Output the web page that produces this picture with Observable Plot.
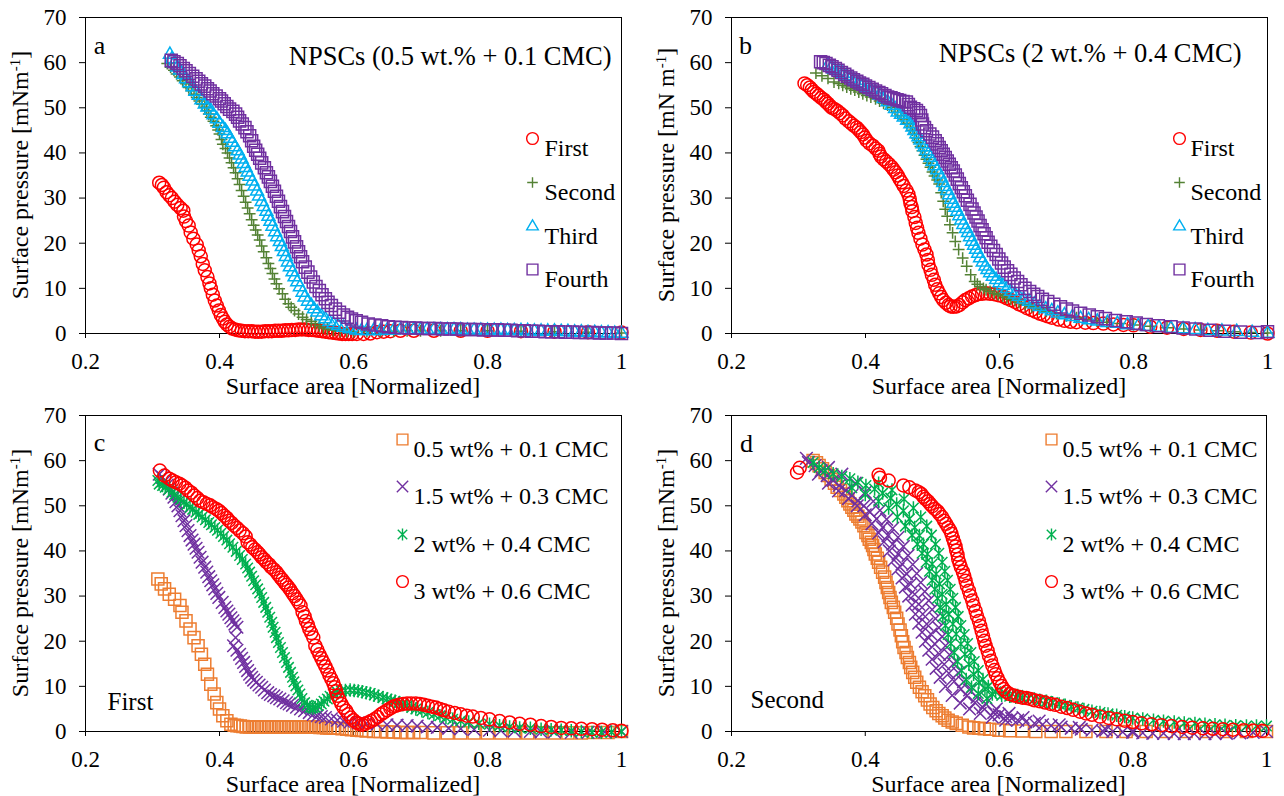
<!DOCTYPE html>
<html><head><meta charset="utf-8">
<script src="https://cdn.jsdelivr.net/npm/d3@7"></script>
<script src="https://cdn.jsdelivr.net/npm/@observablehq/plot@0.6"></script>
<style>
body{margin:0;background:#fff;}
#grid{display:grid;grid-template-columns:642px 642px;width:1284px;}
svg{display:block;}
</style></head>
<body><div id="grid"></div>
<script>
// ---------- axis ticks ----------
const xTickValues = [0.2, 0.4, 0.6, 0.8, 1];
const xTickLabels = ["0.2", "0.4", "0.6", "0.8", "1"];
const yTickValues = [0, 10, 20, 30, 40, 50, 60, 70];
const yTickLabels = ["0", "10", "20", "30", "40", "50", "60", "70"];

// ---------- panel a: NPSCs (0.5 wt.% + 0.1 CMC) ----------
const aFirst = [[0.310,33.4],[0.314,32.9],[0.317,32.3],[0.321,31.3],[0.325,30.6],[0.329,30.0],[0.333,29.2],[0.337,28.5],[0.342,27.8],[0.346,27.2],[0.347,25.9],[0.350,24.9],[0.354,23.9],[0.357,22.4],[0.361,21.0],[0.366,19.7],[0.369,18.4],[0.372,17.1],[0.375,15.4],[0.378,14.0],[0.382,12.5],[0.385,11.1],[0.387,10.0],[0.390,8.6],[0.393,7.3],[0.396,6.2],[0.399,5.1],[0.402,4.1],[0.405,3.3],[0.408,2.6],[0.411,2.0],[0.415,1.5],[0.419,1.1],[0.423,0.9],[0.428,0.7],[0.433,0.6],[0.438,0.5],[0.443,0.5],[0.448,0.5],[0.453,0.4],[0.458,0.4],[0.463,0.4],[0.468,0.5],[0.473,0.5],[0.478,0.5],[0.483,0.6],[0.488,0.6],[0.493,0.6],[0.498,0.7],[0.503,0.7],[0.508,0.8],[0.513,0.8],[0.518,0.9],[0.523,0.9],[0.528,0.9],[0.533,0.8],[0.538,0.8],[0.543,0.7],[0.548,0.6],[0.553,0.5],[0.558,0.4],[0.563,0.3],[0.568,0.2],[0.573,0.1],[0.578,0.0],[0.583,-0.1],[0.588,-0.1],[0.593,-0.1],[0.598,-0.1],[0.605,-0.1],[0.615,-0.1],[0.625,0.0],[0.635,0.3],[0.645,0.4],[0.655,0.5],[0.670,0.6],[0.690,0.6],[0.720,0.6],[0.760,0.6],[0.800,0.6],[0.850,0.5],[0.900,0.4],[0.950,0.3],[1.000,0.2]];
const aSecond = [[0.322,59.8],[0.327,59.0],[0.332,58.3],[0.336,57.5],[0.341,56.8],[0.345,56.0],[0.350,55.3],[0.354,54.5],[0.358,53.8],[0.362,53.0],[0.366,52.3],[0.370,51.5],[0.374,50.8],[0.378,50.1],[0.381,49.4],[0.384,48.6],[0.387,47.9],[0.391,47.0],[0.395,46.0],[0.398,45.1],[0.400,44.2],[0.403,43.0],[0.405,41.9],[0.409,41.0],[0.412,40.0],[0.415,38.9],[0.418,37.8],[0.421,36.7],[0.424,35.6],[0.427,34.3],[0.430,33.0],[0.433,31.7],[0.436,30.4],[0.439,29.1],[0.442,27.8],[0.445,26.5],[0.448,25.2],[0.451,24.0],[0.454,22.9],[0.457,21.8],[0.460,20.7],[0.463,19.4],[0.466,18.1],[0.470,16.8],[0.473,15.5],[0.476,14.4],[0.479,13.3],[0.482,12.1],[0.485,11.0],[0.489,9.9],[0.494,8.8],[0.498,7.6],[0.503,6.6],[0.507,5.8],[0.512,5.1],[0.518,4.3],[0.524,3.6],[0.530,3.1],[0.537,2.7],[0.543,2.2],[0.549,1.7],[0.555,1.3],[0.561,1.0],[0.570,0.7],[0.580,0.5],[0.590,0.4],[0.600,0.4],[0.620,0.4],[0.640,0.5],[0.660,0.5],[0.680,0.6],[0.700,0.6],[0.730,0.6],[0.760,0.6],[0.800,0.6],[0.850,0.5],[0.900,0.4],[0.950,0.3],[1.000,0.1]];
const aThird = [[0.326,61.8],[0.329,60.8],[0.332,59.8],[0.337,59.0],[0.341,58.3],[0.346,57.3],[0.350,56.4],[0.355,55.5],[0.360,54.6],[0.364,53.6],[0.369,52.7],[0.373,51.7],[0.378,50.8],[0.382,50.1],[0.387,49.4],[0.391,48.4],[0.396,47.5],[0.400,46.5],[0.405,45.6],[0.409,44.9],[0.412,44.2],[0.416,43.2],[0.419,42.3],[0.423,41.3],[0.427,40.4],[0.430,39.5],[0.433,38.6],[0.436,37.6],[0.439,36.7],[0.442,35.7],[0.445,34.8],[0.449,33.7],[0.452,32.6],[0.456,31.5],[0.459,30.4],[0.463,29.2],[0.466,28.1],[0.470,27.0],[0.473,25.9],[0.476,24.8],[0.479,23.7],[0.483,22.5],[0.486,21.4],[0.490,20.3],[0.493,19.2],[0.496,18.1],[0.499,17.0],[0.502,15.8],[0.505,14.7],[0.509,13.6],[0.512,12.5],[0.516,11.4],[0.520,10.3],[0.524,9.1],[0.527,8.0],[0.532,7.1],[0.537,6.2],[0.541,5.4],[0.546,4.7],[0.552,3.9],[0.558,3.2],[0.564,2.6],[0.570,2.1],[0.577,1.7],[0.585,1.3],[0.594,1.0],[0.604,0.7],[0.612,0.6],[0.620,0.6],[0.630,0.6],[0.640,0.6],[0.650,0.7],[0.660,0.7],[0.670,0.8],[0.680,0.8],[0.690,0.8],[0.700,0.8],[0.710,0.8],[0.720,0.8],[0.730,0.8],[0.740,0.8],[0.750,0.8],[0.760,0.8],[0.770,0.7],[0.780,0.7],[0.790,0.7],[0.800,0.7],[0.810,0.7],[0.820,0.7],[0.830,0.6],[0.840,0.6],[0.850,0.6],[0.860,0.6],[0.870,0.5],[0.880,0.5],[0.890,0.5],[0.900,0.5],[0.910,0.4],[0.920,0.4],[0.930,0.3],[0.940,0.3],[0.950,0.2],[0.960,0.2],[0.970,0.1],[0.980,0.1],[0.990,0.0],[1.000,0.0]];
const aFourth = [[0.328,60.5],[0.332,60.2],[0.337,59.8],[0.341,59.3],[0.346,58.7],[0.350,58.2],[0.355,57.6],[0.360,57.0],[0.365,56.4],[0.369,55.9],[0.373,55.3],[0.378,54.8],[0.382,54.2],[0.386,53.7],[0.390,53.1],[0.395,52.6],[0.400,52.0],[0.403,51.5],[0.407,50.9],[0.411,50.3],[0.415,49.7],[0.420,49.2],[0.424,48.6],[0.427,47.9],[0.430,47.1],[0.434,46.4],[0.438,45.6],[0.441,44.7],[0.445,43.8],[0.448,42.7],[0.451,41.5],[0.454,40.6],[0.457,39.7],[0.460,38.8],[0.463,37.8],[0.467,36.7],[0.470,35.6],[0.473,34.7],[0.476,33.7],[0.479,32.6],[0.482,31.5],[0.485,30.4],[0.488,29.3],[0.491,28.1],[0.494,27.0],[0.497,25.9],[0.500,24.8],[0.503,23.7],[0.506,22.6],[0.509,21.4],[0.512,20.3],[0.515,19.2],[0.518,18.1],[0.521,17.0],[0.524,15.9],[0.528,14.7],[0.532,13.6],[0.536,12.5],[0.540,11.4],[0.544,10.4],[0.549,9.5],[0.553,8.6],[0.558,7.7],[0.562,6.9],[0.567,6.2],[0.573,5.4],[0.579,4.7],[0.585,4.1],[0.591,3.6],[0.597,3.2],[0.604,2.8],[0.612,2.5],[0.622,2.1],[0.632,1.9],[0.642,1.7],[0.652,1.5],[0.662,1.4],[0.672,1.3],[0.683,1.2],[0.693,1.2],[0.703,1.1],[0.713,1.1],[0.723,1.1],[0.733,1.0],[0.744,1.0],[0.754,1.0],[0.764,0.9],[0.774,0.9],[0.784,0.9],[0.794,0.8],[0.805,0.8],[0.815,0.8],[0.825,0.7],[0.835,0.7],[0.845,0.6],[0.855,0.6],[0.866,0.5],[0.876,0.5],[0.886,0.4],[0.896,0.4],[0.906,0.4],[0.916,0.3],[0.927,0.3],[0.937,0.2],[0.947,0.2],[0.957,0.2],[0.967,0.1],[0.977,0.1],[0.988,0.1],[1.000,0.0]];

// ---------- panel b: NPSCs (2 wt.% + 0.4 CMC) ----------
const bFirst = [[0.309,55.4],[0.313,55.0],[0.317,54.5],[0.320,54.0],[0.323,53.5],[0.327,53.1],[0.330,52.7],[0.334,52.2],[0.338,51.8],[0.341,51.3],[0.344,50.9],[0.347,50.4],[0.350,50.0],[0.354,49.7],[0.358,49.3],[0.362,48.8],[0.366,48.3],[0.370,47.6],[0.375,47.0],[0.379,46.5],[0.383,46.0],[0.387,45.6],[0.390,45.1],[0.393,44.6],[0.396,44.1],[0.399,43.4],[0.402,42.7],[0.406,42.1],[0.411,41.6],[0.415,41.0],[0.419,40.5],[0.421,39.8],[0.423,39.2],[0.427,38.6],[0.431,38.1],[0.435,37.5],[0.439,36.9],[0.442,36.3],[0.445,35.7],[0.448,35.0],[0.451,34.2],[0.454,33.5],[0.457,32.7],[0.461,31.7],[0.464,30.8],[0.466,29.8],[0.467,28.9],[0.469,28.0],[0.470,27.1],[0.473,25.8],[0.475,24.5],[0.477,23.4],[0.479,22.3],[0.482,21.0],[0.485,19.7],[0.488,18.6],[0.491,17.5],[0.493,16.3],[0.494,15.2],[0.497,14.1],[0.499,13.0],[0.502,11.9],[0.504,10.8],[0.507,9.8],[0.510,8.9],[0.513,8.1],[0.516,7.4],[0.520,6.8],[0.524,6.3],[0.527,6.0],[0.531,5.9],[0.536,6.0],[0.540,6.3],[0.545,6.9],[0.549,7.4],[0.554,7.8],[0.559,8.2],[0.564,8.5],[0.568,8.7],[0.574,8.8],[0.580,8.9],[0.586,8.8],[0.592,8.7],[0.598,8.5],[0.605,8.2],[0.611,7.8],[0.617,7.4],[0.623,7.0],[0.629,6.5],[0.635,6.1],[0.641,5.6],[0.648,5.2],[0.654,4.8],[0.660,4.4],[0.666,4.1],[0.672,3.8],[0.678,3.5],[0.688,3.1],[0.697,2.8],[0.706,2.6],[0.715,2.5],[0.728,2.4],[0.740,2.3],[0.755,2.2],[0.770,2.0],[0.785,1.9],[0.800,1.8],[0.825,1.5],[0.850,1.3],[0.875,1.0],[0.900,0.8],[0.925,0.6],[0.950,0.4],[0.975,0.2],[1.000,0.0]];
const bSecond = [[0.326,57.7],[0.335,57.1],[0.344,56.5],[0.353,55.7],[0.360,55.4],[0.366,55.0],[0.372,54.6],[0.378,54.2],[0.384,53.9],[0.390,53.5],[0.396,53.1],[0.402,52.7],[0.408,52.4],[0.415,52.0],[0.421,51.5],[0.427,51.0],[0.433,50.6],[0.439,50.1],[0.444,49.6],[0.448,49.0],[0.453,48.3],[0.457,47.5],[0.462,46.6],[0.467,45.7],[0.470,45.0],[0.473,44.2],[0.476,43.3],[0.479,42.3],[0.482,41.4],[0.485,40.5],[0.488,39.5],[0.491,38.6],[0.494,37.7],[0.497,36.8],[0.500,35.8],[0.503,34.9],[0.507,34.0],[0.510,33.1],[0.513,31.2],[0.516,29.3],[0.519,27.5],[0.522,26.0],[0.526,24.1],[0.530,22.3],[0.534,20.4],[0.539,18.6],[0.545,16.7],[0.551,14.9],[0.557,13.0],[0.563,11.5],[0.567,10.9],[0.571,10.4],[0.576,10.0],[0.580,9.7],[0.586,9.3],[0.592,8.9],[0.598,8.6],[0.605,8.3],[0.611,7.9],[0.617,7.6],[0.623,7.3],[0.629,6.9],[0.638,6.4],[0.648,5.9],[0.659,5.4],[0.670,4.9],[0.685,4.4],[0.700,3.9],[0.715,3.5],[0.730,3.1],[0.745,2.8],[0.760,2.5],[0.780,2.2],[0.800,1.9],[0.825,1.6],[0.850,1.3],[0.875,1.0],[0.900,0.8],[0.925,0.6],[0.950,0.4],[0.975,0.2],[1.000,0.1]];
const bThird = [[0.344,59.4],[0.349,59.0],[0.353,58.5],[0.360,58.1],[0.366,57.6],[0.372,57.1],[0.378,56.5],[0.384,56.0],[0.390,55.5],[0.396,55.0],[0.402,54.5],[0.408,54.0],[0.415,53.5],[0.421,52.8],[0.427,52.0],[0.433,51.3],[0.439,50.5],[0.444,49.8],[0.448,49.0],[0.453,48.5],[0.457,47.9],[0.462,47.2],[0.467,46.4],[0.470,45.7],[0.473,44.9],[0.476,44.2],[0.479,43.5],[0.482,42.8],[0.485,42.0],[0.488,41.3],[0.491,40.5],[0.494,39.8],[0.497,39.0],[0.500,38.1],[0.503,37.1],[0.507,36.2],[0.510,35.3],[0.513,34.4],[0.516,33.4],[0.519,32.5],[0.522,31.6],[0.525,30.7],[0.528,29.7],[0.531,28.8],[0.534,27.9],[0.537,27.0],[0.540,26.0],[0.543,25.1],[0.546,24.1],[0.550,23.2],[0.553,22.3],[0.556,21.4],[0.559,20.4],[0.562,19.5],[0.565,18.6],[0.568,17.7],[0.571,16.7],[0.575,15.8],[0.579,14.9],[0.582,14.1],[0.586,13.4],[0.590,12.6],[0.595,11.9],[0.600,11.2],[0.605,10.6],[0.611,9.9],[0.617,9.3],[0.623,8.7],[0.629,8.2],[0.636,7.6],[0.644,7.1],[0.652,6.5],[0.660,5.9],[0.669,5.4],[0.678,5.0],[0.687,4.5],[0.697,4.1],[0.709,3.7],[0.721,3.3],[0.733,3.0],[0.746,2.7],[0.761,2.4],[0.776,2.2],[0.791,1.9],[0.807,1.7],[0.822,1.5],[0.838,1.3],[0.856,1.1],[0.874,1.0],[0.892,0.8],[0.911,0.6],[0.932,0.5],[0.954,0.4],[0.977,0.2],[1.000,0.0]];
const bFourth = [[0.333,60.2],[0.337,60.0],[0.341,59.8],[0.346,59.4],[0.350,59.1],[0.355,58.7],[0.359,58.3],[0.364,57.8],[0.369,57.4],[0.373,57.0],[0.378,56.6],[0.382,56.2],[0.387,55.9],[0.391,55.5],[0.396,55.2],[0.400,54.8],[0.405,54.5],[0.410,54.1],[0.415,53.7],[0.420,53.4],[0.424,53.1],[0.429,52.7],[0.433,52.4],[0.438,52.2],[0.442,52.0],[0.447,51.8],[0.451,51.6],[0.456,51.4],[0.461,51.3],[0.464,50.7],[0.467,50.1],[0.472,49.8],[0.476,49.4],[0.479,48.9],[0.482,48.3],[0.484,47.3],[0.485,46.4],[0.488,45.6],[0.491,44.9],[0.496,44.2],[0.500,43.5],[0.504,42.7],[0.507,42.0],[0.510,41.2],[0.513,40.5],[0.516,39.7],[0.519,39.0],[0.522,38.2],[0.525,37.5],[0.528,36.7],[0.531,36.0],[0.534,35.1],[0.537,34.2],[0.540,33.2],[0.543,32.3],[0.546,31.4],[0.549,30.5],[0.552,29.5],[0.556,28.6],[0.559,27.6],[0.562,26.7],[0.565,25.8],[0.568,24.9],[0.571,23.9],[0.574,23.0],[0.577,22.1],[0.580,21.2],[0.583,20.2],[0.587,19.3],[0.591,18.4],[0.595,17.5],[0.599,16.5],[0.603,15.6],[0.607,14.7],[0.612,13.9],[0.617,13.1],[0.622,12.3],[0.627,11.5],[0.632,10.8],[0.638,10.0],[0.645,9.3],[0.651,8.7],[0.657,8.2],[0.664,7.6],[0.672,7.1],[0.681,6.5],[0.691,5.9],[0.700,5.4],[0.709,5.0],[0.721,4.5],[0.734,4.1],[0.746,3.7],[0.758,3.3],[0.773,2.9],[0.789,2.6],[0.804,2.3],[0.819,2.0],[0.837,1.7],[0.856,1.5],[0.874,1.2],[0.893,1.0],[0.914,0.7],[0.936,0.5],[0.960,0.3],[0.985,0.2],[1.000,0.4]];

// ---------- panel c: First compression ----------
const c05 = [[0.308,33.8],[0.313,32.7],[0.318,31.6],[0.325,30.4],[0.333,29.3],[0.341,27.9],[0.344,26.4],[0.350,24.5],[0.356,22.7],[0.362,20.8],[0.368,19.0],[0.373,17.1],[0.378,14.9],[0.382,12.7],[0.387,10.5],[0.392,8.3],[0.396,6.4],[0.400,5.0],[0.405,3.5],[0.411,2.4],[0.417,1.6],[0.422,1.4],[0.426,1.3],[0.431,1.2],[0.435,1.1],[0.440,1.0],[0.445,1.0],[0.450,1.0],[0.455,1.0],[0.460,1.0],[0.465,1.0],[0.470,1.0],[0.475,1.0],[0.480,1.0],[0.485,1.0],[0.490,1.0],[0.495,1.0],[0.500,1.0],[0.505,1.0],[0.510,1.0],[0.515,1.0],[0.520,1.0],[0.525,1.0],[0.530,1.0],[0.535,1.0],[0.540,1.0],[0.545,1.0],[0.550,0.9],[0.555,0.9],[0.560,0.8],[0.565,0.8],[0.570,0.7],[0.576,0.7],[0.583,0.6],[0.590,0.5],[0.597,0.4],[0.605,0.3],[0.612,0.2],[0.619,0.1],[0.630,0.0],[0.640,0.0],[0.650,-0.1],[0.660,-0.1],[0.670,-0.2],[0.680,-0.2],[0.690,-0.2],[0.700,-0.2],[0.720,-0.3],[0.740,-0.3],[0.760,-0.3],[0.780,-0.3],[0.800,-0.3],[0.820,-0.3],[0.840,-0.3],[0.860,-0.3],[0.880,-0.3],[0.900,-0.3],[0.920,-0.3],[0.940,-0.3],[0.960,-0.2],[0.980,-0.2],[1.000,0.0]];
const c15 = [[0.310,57.0],[0.315,56.3],[0.319,55.6],[0.322,54.6],[0.325,53.7],[0.329,52.8],[0.332,51.9],[0.335,50.9],[0.338,50.0],[0.341,48.9],[0.344,47.8],[0.347,46.7],[0.350,45.6],[0.353,44.5],[0.356,43.4],[0.359,42.4],[0.362,41.5],[0.365,40.6],[0.368,39.7],[0.371,38.6],[0.374,37.5],[0.378,36.4],[0.381,35.3],[0.384,34.3],[0.387,33.4],[0.390,32.5],[0.393,31.6],[0.396,30.6],[0.399,29.7],[0.404,28.6],[0.408,27.5],[0.411,26.7],[0.414,26.0],[0.417,25.2],[0.420,24.5],[0.423,23.8],[0.426,23.1],[0.424,20.8],[0.421,19.0],[0.426,18.0],[0.430,17.1],[0.433,16.2],[0.436,15.3],[0.439,14.4],[0.442,13.5],[0.445,12.7],[0.448,12.0],[0.451,11.4],[0.455,10.9],[0.459,10.3],[0.463,9.8],[0.467,9.2],[0.472,8.6],[0.476,8.2],[0.481,7.9],[0.485,7.5],[0.490,7.2],[0.495,6.8],[0.500,6.4],[0.504,6.1],[0.509,5.8],[0.515,5.4],[0.521,5.0],[0.527,4.6],[0.534,4.2],[0.540,3.8],[0.546,3.5],[0.552,3.3],[0.558,3.1],[0.567,2.8],[0.576,2.5],[0.585,2.3],[0.595,2.1],[0.607,1.9],[0.619,1.8],[0.635,1.6],[0.650,1.5],[0.665,1.4],[0.680,1.3],[0.695,1.2],[0.710,1.0],[0.725,0.9],[0.742,0.7],[0.760,0.6],[0.780,0.45],[0.803,0.3],[0.820,0.2],[0.840,0.1],[0.864,0.0],[0.880,-0.1],[0.900,-0.1],[0.925,-0.2],[0.950,-0.2],[0.975,-0.1],[1.000,0.0]];
const c20 = [[0.308,55.6],[0.310,54.8],[0.315,54.5],[0.319,54.1],[0.324,53.6],[0.329,53.0],[0.333,52.5],[0.338,51.9],[0.342,51.4],[0.347,50.8],[0.351,50.3],[0.356,49.7],[0.360,49.2],[0.365,48.6],[0.369,48.1],[0.374,47.5],[0.379,46.9],[0.384,46.3],[0.388,45.8],[0.393,45.2],[0.397,44.6],[0.402,43.9],[0.406,43.2],[0.411,42.4],[0.415,41.6],[0.420,40.8],[0.425,39.9],[0.430,39.0],[0.434,38.1],[0.439,37.1],[0.442,36.2],[0.445,35.3],[0.448,34.4],[0.451,33.4],[0.454,32.5],[0.457,31.6],[0.460,30.7],[0.463,29.7],[0.466,28.6],[0.469,27.5],[0.472,26.4],[0.475,25.3],[0.478,24.2],[0.480,23.1],[0.483,22.0],[0.485,20.8],[0.488,19.7],[0.491,18.6],[0.494,17.5],[0.497,16.4],[0.500,15.3],[0.503,14.2],[0.506,13.1],[0.509,12.0],[0.511,11.0],[0.514,10.1],[0.517,9.2],[0.520,8.3],[0.523,7.3],[0.527,6.4],[0.531,5.8],[0.535,5.3],[0.539,5.2],[0.543,5.3],[0.547,5.7],[0.552,6.1],[0.556,6.7],[0.561,7.2],[0.565,7.8],[0.570,8.3],[0.576,8.7],[0.582,9.0],[0.588,9.1],[0.595,9.2],[0.601,9.1],[0.607,9.0],[0.613,8.8],[0.619,8.6],[0.625,8.4],[0.631,8.1],[0.637,7.8],[0.644,7.5],[0.650,7.2],[0.656,6.9],[0.662,6.7],[0.668,6.4],[0.674,6.0],[0.680,5.7],[0.687,5.3],[0.693,5.0],[0.702,4.6],[0.711,4.2],[0.720,3.8],[0.729,3.5],[0.738,3.1],[0.748,2.7],[0.760,2.4],[0.772,2.1],[0.787,1.8],[0.803,1.6],[0.818,1.3],[0.833,1.0],[0.848,0.8],[0.864,0.7],[0.880,0.5],[0.895,0.4],[0.910,0.3],[0.925,0.15],[0.940,0.0],[0.956,-0.2],[0.970,-0.2],[0.985,-0.1],[1.000,0.0]];
const c30 = [[0.311,57.8],[0.318,56.7],[0.325,56.0],[0.330,55.6],[0.335,55.2],[0.340,54.9],[0.344,54.5],[0.349,54.0],[0.353,53.4],[0.358,52.9],[0.362,52.3],[0.367,51.7],[0.371,51.1],[0.376,50.8],[0.381,50.4],[0.386,50.1],[0.390,49.7],[0.395,49.3],[0.399,48.9],[0.403,48.4],[0.407,47.8],[0.411,47.3],[0.414,46.7],[0.418,46.2],[0.422,45.6],[0.426,45.1],[0.430,44.5],[0.435,43.9],[0.439,43.2],[0.442,41.9],[0.446,41.4],[0.449,40.8],[0.453,40.3],[0.457,39.7],[0.460,39.2],[0.463,38.6],[0.467,38.1],[0.470,37.5],[0.474,37.0],[0.477,36.4],[0.481,35.9],[0.485,35.3],[0.488,34.7],[0.491,34.1],[0.494,33.6],[0.497,33.0],[0.500,32.5],[0.503,31.9],[0.506,31.3],[0.509,30.6],[0.512,30.0],[0.515,29.3],[0.518,28.6],[0.521,27.9],[0.524,26.4],[0.527,25.5],[0.529,24.5],[0.532,23.6],[0.534,22.7],[0.537,21.8],[0.540,20.8],[0.543,19.0],[0.546,18.1],[0.549,17.1],[0.552,16.2],[0.555,15.3],[0.558,14.4],[0.561,13.5],[0.564,12.5],[0.567,11.6],[0.570,10.7],[0.572,9.8],[0.574,8.9],[0.576,7.9],[0.579,7.0],[0.582,6.1],[0.585,5.3],[0.589,4.6],[0.592,3.8],[0.596,3.1],[0.600,2.5],[0.604,2.0],[0.608,1.7],[0.613,1.5],[0.617,1.7],[0.622,2.0],[0.626,2.3],[0.631,2.7],[0.636,3.2],[0.641,3.8],[0.645,4.2],[0.650,4.7],[0.655,5.1],[0.659,5.5],[0.663,5.7],[0.668,5.9],[0.674,6.1],[0.680,6.2],[0.686,6.2],[0.693,6.2],[0.699,6.1],[0.705,5.9],[0.711,5.7],[0.717,5.5],[0.723,5.3],[0.729,5.0],[0.735,4.7],[0.742,4.4],[0.751,4.1],[0.760,3.8],[0.769,3.5],[0.778,3.3],[0.790,3.0],[0.803,2.7],[0.818,2.3],[0.833,2.0],[0.848,1.7],[0.864,1.5],[0.880,1.2],[0.895,1.0],[0.910,0.8],[0.925,0.7],[0.940,0.6],[0.956,0.5],[0.971,0.4],[0.987,0.3],[1.000,0.15]];

// ---------- panel d: Second compression ----------
const d05 = [[0.322,60.0],[0.327,59.5],[0.331,58.9],[0.336,58.2],[0.340,57.4],[0.345,56.7],[0.349,55.9],[0.354,55.0],[0.358,54.1],[0.363,53.4],[0.368,52.6],[0.371,51.9],[0.374,51.1],[0.377,50.4],[0.380,49.7],[0.383,49.0],[0.386,48.2],[0.389,47.7],[0.392,47.1],[0.395,46.4],[0.398,45.6],[0.401,44.1],[0.404,43.4],[0.406,42.6],[0.409,41.9],[0.411,41.2],[0.413,40.3],[0.415,39.3],[0.418,38.4],[0.420,37.5],[0.423,36.4],[0.426,35.3],[0.429,34.2],[0.431,33.0],[0.433,31.9],[0.435,30.8],[0.437,29.7],[0.439,28.6],[0.442,27.5],[0.444,26.4],[0.447,25.1],[0.449,23.8],[0.452,22.5],[0.454,21.2],[0.456,19.9],[0.458,18.6],[0.461,17.5],[0.463,16.4],[0.466,15.3],[0.468,14.2],[0.471,13.1],[0.474,12.0],[0.477,10.9],[0.481,9.8],[0.485,8.8],[0.489,7.9],[0.493,7.0],[0.497,6.1],[0.501,5.3],[0.506,4.6],[0.510,4.0],[0.515,3.5],[0.519,3.0],[0.524,2.5],[0.530,2.1],[0.536,1.8],[0.545,1.4],[0.555,1.0],[0.562,0.8],[0.570,0.7],[0.578,0.6],[0.586,0.5],[0.600,0.3],[0.616,0.15],[0.635,0.1],[0.655,0.0],[0.678,0.0],[0.700,0.0],[0.730,0.0],[0.760,0.0],[0.790,0.0],[0.820,0.0],[0.850,0.0],[0.880,0.0],[0.910,0.0],[0.940,0.0],[0.970,0.0],[1.000,0.0]];
const d15 = [[0.312,60.5],[0.315,59.6],[0.325,58.9],[0.334,57.8],[0.343,56.7],[0.352,55.6],[0.361,54.5],[0.371,53.4],[0.380,52.3],[0.389,51.1],[0.398,50.0],[0.407,48.6],[0.417,47.1],[0.426,45.2],[0.434,43.4],[0.441,41.5],[0.449,39.3],[0.455,37.1],[0.462,34.9],[0.468,32.7],[0.474,30.4],[0.480,28.2],[0.486,26.0],[0.492,23.8],[0.498,21.6],[0.504,19.4],[0.511,17.1],[0.518,14.9],[0.525,12.9],[0.533,11.1],[0.543,9.4],[0.552,7.9],[0.564,6.4],[0.576,5.3],[0.592,4.2],[0.600,3.7],[0.610,3.3],[0.619,2.9],[0.628,2.5],[0.640,2.1],[0.653,1.8],[0.665,1.5],[0.678,1.3],[0.693,1.0],[0.708,0.7],[0.723,0.5],[0.739,0.3],[0.755,0.1],[0.770,0.0],[0.785,-0.1],[0.800,-0.2],[0.815,-0.3],[0.830,-0.4],[0.846,-0.4],[0.862,-0.5],[0.877,-0.5],[0.892,-0.5],[0.908,-0.5],[0.923,-0.5],[0.940,-0.4],[0.960,-0.3],[0.980,-0.2],[1.000,0.0],
  [0.330,57.0],[0.345,55.0],[0.360,53.3],[0.375,51.6],[0.388,50.0],[0.400,48.0],[0.410,46.0],[0.420,44.0],[0.428,42.0],[0.436,40.0],[0.443,38.0],[0.449,36.0],[0.455,34.0],[0.460,32.0],[0.465,30.0],[0.470,28.0],[0.475,26.0],[0.480,24.0],[0.485,22.0],[0.490,20.0],[0.495,18.0],[0.500,16.0],[0.506,14.0],[0.512,12.0],[0.520,10.0],[0.530,8.0],[0.542,6.3],[0.556,5.0],[0.572,4.0],[0.590,3.2],[0.610,2.5],
  [0.345,58.5],[0.365,57.0],[0.385,55.0],[0.400,53.0],[0.412,51.0],[0.422,49.0],[0.432,47.0],[0.441,45.0],[0.449,43.0],[0.457,41.0],[0.464,39.0],[0.471,37.0],[0.477,35.0],[0.483,33.0],[0.489,31.0],[0.495,29.0],[0.500,27.0],[0.505,25.0],[0.510,23.0],[0.515,21.0],[0.520,19.0],[0.526,17.0],[0.532,15.0],[0.539,13.0],[0.547,11.0],[0.556,9.2],[0.567,7.6],[0.580,6.2],[0.596,5.0],[0.615,4.0],[0.636,3.1],[0.660,2.3],[0.690,1.5],[0.720,0.9],[0.760,0.4],[0.800,0.1]];
const d20 = [[0.322,59.6],[0.331,58.5],[0.340,57.8],[0.352,57.1],[0.365,56.5],[0.377,56.0],[0.389,55.2],[0.401,54.5],[0.414,53.7],[0.426,52.8],[0.438,51.7],[0.447,50.4],[0.457,48.9],[0.466,47.1],[0.474,45.2],[0.481,43.4],[0.487,41.5],[0.493,39.3],[0.500,37.1],[0.506,34.9],[0.511,32.7],[0.515,30.4],[0.521,28.2],[0.525,26.0],[0.531,23.8],[0.536,21.6],[0.543,19.4],[0.549,17.1],[0.555,14.9],[0.562,12.7],[0.570,10.9],[0.579,9.4],[0.590,8.3],[0.604,8.0],[0.616,7.8],[0.625,7.6],[0.635,7.5],[0.644,7.3],[0.653,7.2],[0.662,6.9],[0.671,6.7],[0.680,6.4],[0.690,6.1],[0.699,5.8],[0.708,5.5],[0.718,5.2],[0.727,4.9],[0.739,4.5],[0.751,4.2],[0.763,3.9],[0.776,3.6],[0.788,3.3],[0.800,3.0],[0.815,2.8],[0.831,2.5],[0.846,2.3],[0.862,2.1],[0.877,1.9],[0.893,1.8],[0.908,1.6],[0.923,1.5],[0.938,1.4],[0.954,1.3],[0.970,1.2],[0.985,1.2],[1.000,1.2],
  [0.380,54.0],[0.400,52.5],[0.420,51.0],[0.435,49.5],[0.448,47.5],[0.460,45.5],[0.470,43.5],[0.478,41.5],[0.485,39.5],[0.491,37.5],[0.496,35.5],[0.500,33.5],[0.504,31.5],[0.508,29.5],[0.512,27.5],[0.516,25.5],[0.520,23.5],[0.524,21.5],[0.528,19.5],[0.533,17.5],[0.538,15.5],[0.544,13.5],[0.551,11.5],[0.559,9.8],[0.569,8.4],[0.582,7.3],
  [0.420,55.0],[0.440,53.5],[0.458,51.5],[0.472,49.5],[0.483,47.5],[0.492,45.5],[0.499,43.5],[0.505,41.5],[0.510,39.5],[0.515,37.5],[0.519,35.5],[0.523,33.5],[0.527,31.5],[0.531,29.5],[0.535,27.5],[0.539,25.5],[0.543,23.5],[0.548,21.5],[0.553,19.5],[0.558,17.5],[0.563,15.5],[0.569,13.5],[0.576,11.5],[0.584,10.0],[0.595,8.8],[0.610,8.3],[0.628,8.0]];
const d30 = [[0.298,57.4],[0.302,58.4],[0.420,56.9],[0.422,56.2],[0.435,55.6],[0.457,54.5],[0.466,54.1],[0.475,53.4],[0.480,53.0],[0.484,52.6],[0.487,52.0],[0.490,51.5],[0.494,51.0],[0.497,50.4],[0.500,49.9],[0.504,49.3],[0.508,48.8],[0.511,48.2],[0.515,47.5],[0.518,46.7],[0.521,46.0],[0.524,45.2],[0.527,44.5],[0.529,43.8],[0.531,42.8],[0.533,41.9],[0.535,41.0],[0.536,40.1],[0.538,39.2],[0.539,38.2],[0.541,37.3],[0.543,36.4],[0.546,35.4],[0.548,34.5],[0.550,33.4],[0.552,32.3],[0.555,31.2],[0.557,30.1],[0.560,29.0],[0.562,27.9],[0.565,26.7],[0.567,25.6],[0.570,24.5],[0.572,23.4],[0.574,22.3],[0.576,21.2],[0.578,20.1],[0.580,19.0],[0.583,17.9],[0.585,16.8],[0.588,15.7],[0.590,14.6],[0.593,13.6],[0.595,12.7],[0.598,11.8],[0.601,10.9],[0.604,10.1],[0.607,9.4],[0.611,8.8],[0.616,8.3],[0.622,8.0],[0.629,7.7],[0.635,7.5],[0.641,7.4],[0.647,7.2],[0.653,6.9],[0.661,6.7],[0.669,6.4],[0.677,6.1],[0.684,5.9],[0.693,5.5],[0.702,5.2],[0.711,4.8],[0.721,4.4],[0.730,4.0],[0.739,3.7],[0.751,3.3],[0.764,3.0],[0.776,2.7],[0.788,2.4],[0.800,2.1],[0.813,1.8],[0.828,1.6],[0.843,1.4],[0.858,1.2],[0.874,1.0],[0.889,0.85],[0.905,0.7],[0.920,0.6],[0.935,0.5],[0.950,0.4],[0.966,0.3],[0.980,0.2],[0.994,0.15]];

// ---------- labels ----------
const cycleNames = ["First", "Second", "Third", "Fourth"];
const concNames = ["0.5 wt% + 0.1 CMC", "1.5 wt% + 0.3 CMC", "2 wt% + 0.4 CMC", "3 wt% + 0.6 CMC"];
const panelTitles = ["NPSCs (0.5 wt.% + 0.1 CMC)", "NPSCs (2 wt.% + 0.4 CMC)"];
const panelLetters = ["a", "b", "c", "d"];
const cornerNotes = ["First", "Second"];
const xTitle = "Surface area [Normalized]";

// ---------- styles ----------
const FONT = '"Liberation Serif", "Times New Roman", Times, serif';
const starSymbol = {
  draw(ctx, size) {
    const r = Math.sqrt(size / Math.PI), a = r * 0.82;
    ctx.moveTo(-a, -a); ctx.lineTo(a, a);
    ctx.moveTo(-a, a); ctx.lineTo(a, -a);
    ctx.moveTo(0, -r * 1.05); ctx.lineTo(0, r * 1.05);
  }
};
const symCircle = {symbol: "circle", r: 6.5};
const symPlus = {symbol: "plus", r: 3.9};
const symTri = {symbol: "triangle", r: 4.8};
const symSquare = {symbol: "square", r: 6.8};
const symTimes = {symbol: "times", r: 5.8};
const symStar = {symbol: starSymbol, r: 6.4};

const cycleStyles = [
  {...symCircle, color: "#FF0000"},
  {...symPlus, color: "#548235"},
  {...symTri, color: "#00B0F0"},
  {...symSquare, color: "#7030A0"}
];
const concStyles = [
  {...symSquare, color: "#ED7D31"},
  {...symTimes, color: "#7030A0"},
  {...symStar, color: "#00B050"},
  {...symCircle, color: "#FF0000"}
];

const W = 642, H = 398, MT = 17, MB = 65;

function makePanel(cfg) {
  const marks = [
    Plot.frame({stroke: "black", strokeWidth: 1}),
    Plot.axisY({ticks: yTickValues, tickSize: 6, tickPadding: 13, label: null,
      tickFormat: d => yTickLabels[yTickValues.indexOf(d)], fontSize: 23}),
    Plot.axisX({ticks: xTickValues, tickSize: 5, tickPadding: 14, label: null,
      tickFormat: d => xTickLabels[xTickValues.indexOf(d)], fontSize: 23})
  ];
  cfg.series.forEach((data, i) => {
    const s = cfg.styles[i];
    marks.push(Plot.dot(data, {x: d => d[0], y: d => d[1], symbol: s.symbol, r: s.r,
      stroke: s.color, fill: "none", strokeWidth: 1.5}));
  });
  cfg.names.forEach((name, i) => {
    const s = cfg.styles[i];
    marks.push(Plot.dot([name], {frameAnchor: "top-right", dx: cfg.legIcon, dy: cfg.legRows[i],
      symbol: s.symbol, r: s.r * 0.9, stroke: s.color, fill: "none", strokeWidth: 1.4}));
    marks.push(Plot.text([name], {text: d => d, frameAnchor: "top-right", dx: cfg.legText, dy: cfg.legRows[i],
      textAnchor: "start", fontSize: 24, fill: "black"}));
  });
  marks.push(Plot.text([cfg.letter], {text: d => d, frameAnchor: "top-left", dx: cfg.letterDx, dy: cfg.letterDy,
    textAnchor: "middle", fontSize: 26, fill: "black"}));
  if (cfg.title) marks.push(Plot.text([cfg.title], {text: d => d, frameAnchor: "top-right", dx: cfg.titleDx, dy: cfg.titleDy,
    textAnchor: "end", fontSize: 26.5, fill: "black"}));
  if (cfg.note) marks.push(Plot.text([cfg.note], {text: d => d, frameAnchor: "bottom-left", dx: cfg.noteDx, dy: cfg.noteDy,
    textAnchor: "start", fontSize: 25, fill: "black"}));

  const svg = Plot.plot({
    width: W, height: H, marginLeft: cfg.ml, marginRight: cfg.mr, marginTop: MT, marginBottom: MB,
    x: {domain: [0.2, 1]}, y: {domain: [0, 70]},
    style: {fontFamily: FONT, fontSize: "23px", background: "white", color: "black", overflow: "visible"},
    marks
  });
  const g = d3.select(svg);
  const cx = (cfg.ml + W - cfg.mr) / 2;
  g.append("text").attr("x", cx).attr("y", 386).attr("text-anchor", "middle")
    .attr("dominant-baseline", "central").style("font-family", FONT).attr("font-size", 24)
    .attr("fill", "black").text(xTitle);
  const cy = MT + (H - MT - MB) / 2;
  const yt = g.append("text").attr("transform", `translate(${cfg.ml - 65},${cy}) rotate(-90)`)
    .attr("text-anchor", "middle").attr("dy", "0.35em").style("font-family", FONT)
    .attr("font-size", 24).attr("fill", "black");
  yt.append("tspan").text(cfg.yUnit[0]);
  yt.append("tspan").attr("baseline-shift", "super").attr("font-size", 15).text(cfg.yUnit[1]);
  yt.append("tspan").text(cfg.yUnit[2]);
  return svg;
}

const grid = document.getElementById("grid");
const legRowsTop = [121, 165, 209, 252];
const legRowsBot = [24, 71, 119, 166];
grid.appendChild(makePanel({series: [aFirst, aSecond, aThird, aFourth], styles: cycleStyles, names: cycleNames,
  ml: 85, mr: 21, legIcon: -89, legText: -77, legRows: legRowsTop, letter: panelLetters[0], letterDx: 14, letterDy: 18,
  title: panelTitles[0], titleDx: -10, titleDy: 29, yUnit: ["Surface pressure [mNm", "-1", "]"]}));
grid.appendChild(makePanel({series: [bFirst, bSecond, bThird, bFourth], styles: cycleStyles, names: cycleNames,
  ml: 89, mr: 17, legIcon: -88, legText: -77, legRows: legRowsTop, letter: panelLetters[1], letterDx: 14, letterDy: 18,
  title: panelTitles[1], titleDx: -26, titleDy: 26, yUnit: ["Surface pressure [mN m", "-1", "]"]}));
grid.appendChild(makePanel({series: [c05, c15, c20, c30], styles: concStyles, names: concNames,
  ml: 85, mr: 21, legIcon: -219, legText: -208, legRows: legRowsBot, letter: panelLetters[2], letterDx: 14, letterDy: 17,
  note: cornerNotes[0], noteDx: 22, noteDy: -22, yUnit: ["Surface pressure [mNm", "-1", "]"]}));
grid.appendChild(makePanel({series: [d05, d15, d20, d30], styles: concStyles, names: concNames,
  ml: 89, mr: 18, legIcon: -215, legText: -204, legRows: legRowsBot, letter: panelLetters[3], letterDx: 15, letterDy: 18,
  note: cornerNotes[1], noteDx: 19, noteDy: -24, yUnit: ["Surface pressure [mNm", "-1", "]"]}));
</script></body></html>
